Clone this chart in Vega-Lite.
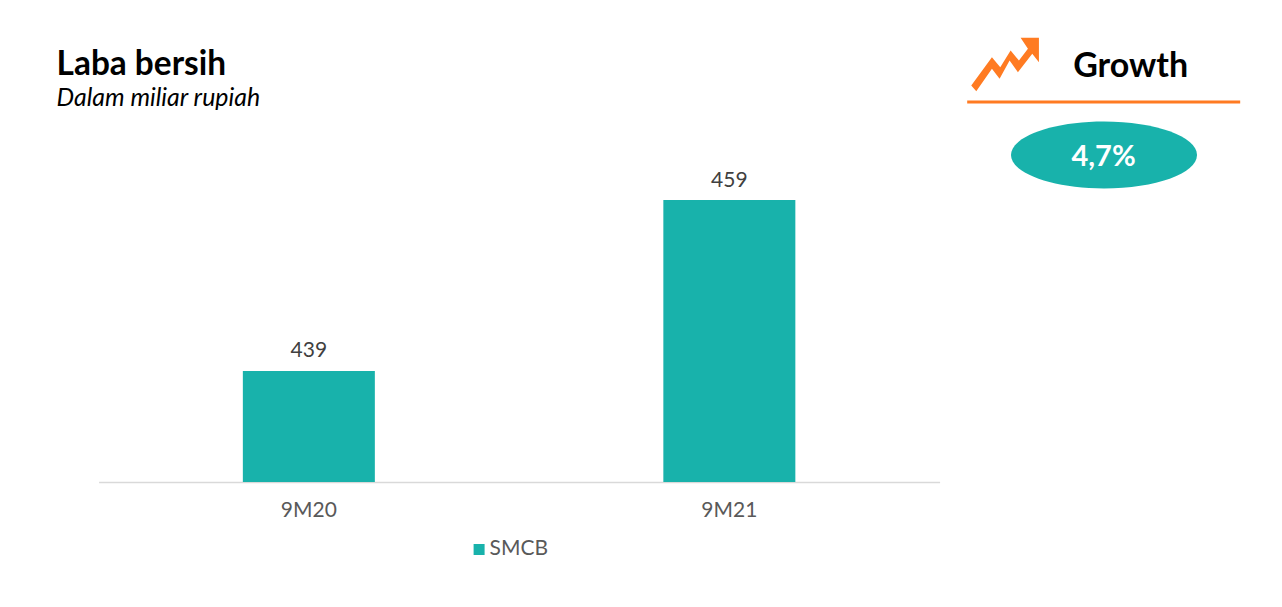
{
"$schema":"https://vega.github.io/schema/vega-lite/v6.json",
"padding":{"left":56.6,"top":25,"right":0,"bottom":0},
"background":"white",
"bounds":"flush",
"spacing":20,
"config":{"view":{"stroke":null},"font":"Lato"},
"hconcat":[
{
"width":841,"height":457,
"title":{"text":"Laba bersih","subtitle":"Dalam miliar rupiah","anchor":"start","frame":"group","dx":-42,"offset":-87,"font":"Lato","fontSize":33.4,"fontWeight":"bold","color":"#000000","subtitleFont":"Lato","subtitleFontSize":24.9,"subtitleFontStyle":"italic","subtitleColor":"#000000","subtitlePadding":4},
"data":{"values":[{"period":"9M20","laba":439,"series":"SMCB"},{"period":"9M21","laba":459,"series":"SMCB"}]},
"layer":[
{"mark":{"type":"bar","size":132},
"encoding":{
"x":{"field":"period","type":"nominal","scale":{"paddingInner":0,"paddingOuter":0},"axis":{"title":null,"labelAngle":0,"ticks":false,"domainColor":"#D9D9D9","domainWidth":1.5,"labelFont":"Lato","labelFontSize":21,"labelColor":"#595959","labelPadding":18,"grid":false}},
"y":{"field":"laba","type":"quantitative","scale":{"domain":[426,479.5],"zero":false,"nice":false},"axis":null},
"y2":{"datum":426},
"color":{"field":"series","type":"nominal","scale":{"range":["#18B2AB"]},"legend":{"title":null,"orient":"none","legendX":370,"legendY":514,"symbolType":"square","symbolSize":121,"labelFont":"Lato","labelFontSize":21,"labelColor":"#595959","symbolOpacity":1,"labelOffset":0}}
}},
{"mark":{"type":"text","dy":-19.5,"font":"Lato","fontSize":21,"color":"#404040"},
"encoding":{
"x":{"field":"period","type":"nominal"},
"y":{"field":"laba","type":"quantitative"},
"text":{"field":"laba","type":"quantitative"}
}}
]
},
{
"width":290,"height":457,
"data":{"values":[{"heading":"Growth","growth":"4,7%"}]},
"layer":[
{"mark":{"type":"point","shape":"M-1,.62L-.389,-.217L-.143,.079L.163,-.414L.409,-.118L.675,-.463L.458,-.788L1,-.788L1,-.069L.803,-.315L.379,.227L.133,-.118L-.163,.424L-.389,.128L-.852,.788Z","filled":true,"size":4579,"color":"#FF7B22","opacity":1},
"encoding":{
"x":{"datum":45.5,"type":"quantitative","scale":{"domain":[0,290],"nice":false},"axis":null},
"y":{"datum":39.5,"type":"quantitative","scale":{"domain":[457,0],"nice":false},"axis":null}
}},
{"mark":{"type":"text","font":"Lato","fontSize":34,"fontWeight":"bold","color":"#000000"},
"encoding":{
"x":{"datum":171,"type":"quantitative"},
"y":{"datum":41.5,"type":"quantitative"},
"text":{"field":"heading"}
}},
{"mark":{"type":"rule","color":"#FF7B22","strokeWidth":3},
"encoding":{
"x":{"datum":7.6,"type":"quantitative"},
"x2":{"datum":280.6,"type":"quantitative"},
"y":{"datum":77,"type":"quantitative"}
}},
{"mark":{"type":"point","shape":"M-1,0A1,.36,0,1,1,1,0A1,.36,0,1,1,-1,0Z","filled":true,"size":34596,"color":"#18B2AB","opacity":1},
"encoding":{
"x":{"datum":144.4,"type":"quantitative"},
"y":{"datum":130,"type":"quantitative"}
}},
{"mark":{"type":"text","font":"Lato","fontSize":29,"fontWeight":"bold","color":"#FFFFFF"},
"encoding":{
"x":{"datum":144,"type":"quantitative"},
"y":{"datum":131.5,"type":"quantitative"},
"text":{"field":"growth"}
}}
]
}
]
}
